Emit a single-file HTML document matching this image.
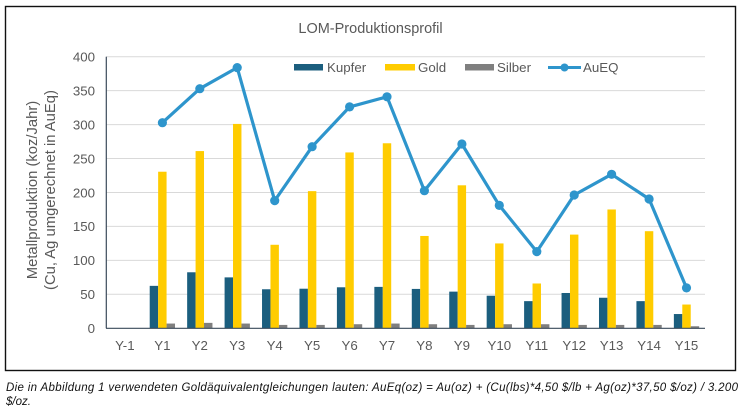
<!DOCTYPE html>
<html><head><meta charset="utf-8"><style>
html,body{margin:0;padding:0;background:#fff;}
svg{display:block;}
</style></head><body>
<svg width="746" height="418" viewBox="0 0 746 418" xmlns="http://www.w3.org/2000/svg" font-family="'Liberation Sans', Arial, sans-serif">
<rect x="0" y="0" width="746" height="418" fill="#fff"/>
<rect x="5.5" y="6.5" width="730" height="364" fill="#fff" stroke="#111" stroke-width="1.4"/>
<text x="370.5" y="33" text-anchor="middle" font-size="14.5" fill="#595959">LOM-Produktionsprofil</text>
<g stroke="#d9d9d9" stroke-width="1">
<line x1="106" x2="705" y1="56.7" y2="56.7"/>
<line x1="106" x2="705" y1="90.6" y2="90.6"/>
<line x1="106" x2="705" y1="124.6" y2="124.6"/>
<line x1="106" x2="705" y1="158.5" y2="158.5"/>
<line x1="106" x2="705" y1="192.5" y2="192.5"/>
<line x1="106" x2="705" y1="226.4" y2="226.4"/>
<line x1="106" x2="705" y1="260.4" y2="260.4"/>
<line x1="106" x2="705" y1="294.3" y2="294.3"/>
</g>
<g font-size="13.3" fill="#595959" text-anchor="end">
<text x="95" y="61.5">400</text>
<text x="95" y="95.4">350</text>
<text x="95" y="129.4">300</text>
<text x="95" y="163.3">250</text>
<text x="95" y="197.3">200</text>
<text x="95" y="231.2">150</text>
<text x="95" y="265.2">100</text>
<text x="95" y="299.1">50</text>
<text x="95" y="333">0</text>
</g>
<g font-size="14.8" fill="#595959" text-anchor="middle">
<text transform="translate(37,190) rotate(-90)">Metallproduktion  (koz/Jahr)</text>
<text transform="translate(55,190) rotate(-90)">(Cu, Ag umgerechnet in AuEq)</text>
</g>
<g id="bars"></g>
<line x1="106" x2="705" y1="328.3" y2="328.3" stroke="#3a4a5a" stroke-width="1.2"/>
<line x1="106.3" x2="106.3" y1="56.7" y2="328.3" stroke="#3a4a5a" stroke-width="1.2"/>
<g id="xl" font-size="13.3" fill="#595959" text-anchor="middle"></g>
<g id="line"></g>
<!-- legend -->
<rect x="294" y="64" width="29" height="6.5" fill="#1b5e7e"/>
<text x="327" y="72" font-size="13.3" fill="#595959">Kupfer</text>
<rect x="385" y="64" width="30" height="6.5" fill="#ffcc00"/>
<text x="418" y="72" font-size="13.3" fill="#595959">Gold</text>
<rect x="465" y="64" width="29" height="6.5" fill="#7f7f7f"/>
<text x="497" y="72" font-size="13.3" fill="#595959">Silber</text>
<line x1="548" x2="581" y1="67.5" y2="67.5" stroke="#2e95cc" stroke-width="3"/>
<circle cx="564.5" cy="67.5" r="4" fill="#2e95cc"/>
<text x="583" y="72" font-size="13.3" fill="#595959">AuEQ</text>
<g font-size="11.5" font-style="italic" fill="#111">
<text x="6" y="391" textLength="732" lengthAdjust="spacing">Die in Abbildung 1 verwendeten Goldäquivalentgleichungen lauten: AuEq(oz) = Au(oz) + (Cu(lbs)*4,50 $/lb + Ag(oz)*37,50 $/oz) / 3.200</text>
<text x="6" y="405">$/oz.</text>
</g>
<script>
(function(){
var NS="http://www.w3.org/2000/svg";
var K=[0,62.5,82.5,75,57.5,58.3,60.4,61,58,54,48,40,52,45,40,21];
var G=[0,230.6,261,301,123,202,259,272.5,136,210.6,125,66,138,175,143,35];
var S=[0,7,8,7,5,5,6,7,6,5,6,6,5,5,5,3];
var A=[null,302.8,352.8,384,188,267.5,326,341,202.6,271.4,181,113,196.3,226.8,190.4,59.5];
var labels=["Y-1","Y1","Y2","Y3","Y4","Y5","Y6","Y7","Y8","Y9","Y10","Y11","Y12","Y13","Y14","Y15"];
function y(v){return 328.3-v*0.679;}
function cx(i){return 106.2+37.44*(i+0.5);}
var bars=document.getElementById("bars"),xl=document.getElementById("xl"),ln=document.getElementById("line");
var w=8.43;
function rect(x,v,c){if(v<=0)return;var r=document.createElementNS(NS,"rect");r.setAttribute("x",x.toFixed(2));r.setAttribute("y",y(v).toFixed(2));r.setAttribute("width",w);r.setAttribute("height",(328.3-y(v)).toFixed(2));r.setAttribute("fill",c);bars.appendChild(r);}
var pts=[];
for(var i=0;i<16;i++){
var c=cx(i);
rect(c-12.65,K[i],"#1b5e7e");
rect(c-4.22,G[i],"#ffcc00");
rect(c+4.22,S[i],"#7f7f7f");
var t=document.createElementNS(NS,"text");t.setAttribute("x",c.toFixed(1));t.setAttribute("y","350");t.textContent=labels[i];xl.appendChild(t);
if(A[i]!==null)pts.push([c,y(A[i])]);
}
var p=document.createElementNS(NS,"polyline");
p.setAttribute("points",pts.map(function(q){return q[0].toFixed(1)+","+q[1].toFixed(1);}).join(" "));
p.setAttribute("fill","none");p.setAttribute("stroke","#2e95cc");p.setAttribute("stroke-width","3.2");p.setAttribute("stroke-linejoin","round");
ln.appendChild(p);
pts.forEach(function(q){var ci=document.createElementNS(NS,"circle");ci.setAttribute("cx",q[0].toFixed(1));ci.setAttribute("cy",q[1].toFixed(1));ci.setAttribute("r","4.6");ci.setAttribute("fill","#2e95cc");ln.appendChild(ci);});
})();
</script>
</svg>
</body></html>
